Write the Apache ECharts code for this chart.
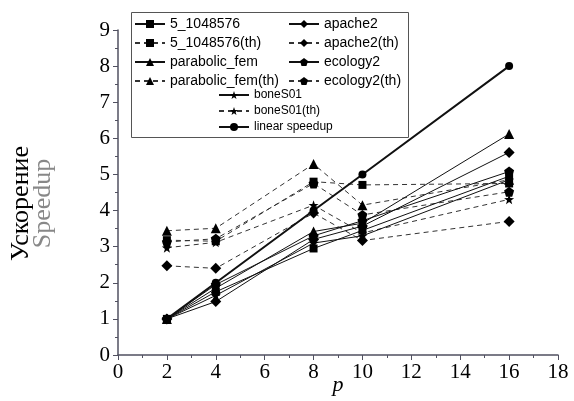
<!DOCTYPE html>
<html><head><meta charset="utf-8">
<script src="https://cdn.jsdelivr.net/npm/echarts@6/dist/echarts.min.js"></script>
<style>html,body{margin:0;padding:0;background:#fff}#c{width:574px;height:401px}</style>
</head><body><div id="c"></div>
<script>
var procs = [2, 4, 8, 10, 16];
var xTicks = [0, 2, 4, 6, 8, 10, 12, 14, 16, 18];
var linearSpeedup = [1, 2, 4, 5, 8];
var s5 = [1, 1.75, 2.95, 3.45, 4.95];
var s5th = [3.18, 3.15, 4.80, 4.71, 4.75];
var parab = [1, 1.85, 3.42, 3.65, 6.12];
var parabTh = [3.44, 3.51, 5.29, 4.15, 4.85];
var apache = [1, 1.48, 3.2, 3.57, 5.61];
var apacheTh = [2.47, 2.40, 3.93, 3.17, 3.70];
var eco = [1, 1.95, 3.3, 3.72, 5.08];
var ecoTh = [3.13, 3.22, 4.75, 3.88, 4.52];
var bone = [1, 1.65, 3.1, 3.3, 4.85];
var boneTh = [2.97, 3.12, 4.15, 3.38, 4.31];

var PENT = 'path://M0,-10 L9.5,-3.1 L5.9,8.1 L-5.9,8.1 L-9.5,-3.1 Z';
var STAR = 'path://M0,-10 L2.35,-3.2 L9.5,-3.1 L3.8,1.2 L5.9,8.1 L0,4 L-5.9,8.1 L-3.8,1.2 L-9.5,-3.1 L-2.35,-3.2 Z';

function pts(arr){ return procs.map(function(p,i){ return [p, arr[i]]; }); }
function ser(name, arr, sym, dashed, size, width){
  return {
    name: name, type: 'line', data: pts(arr), symbol: sym, symbolSize: size || 8,
    lineStyle: {color: dashed ? '#333' : '#111', width: width || 1, type: dashed ? [5,4] : 'solid'},
    itemStyle: {color: '#000'}, emphasis: {disabled: true}, animation: false, z: dashed ? 2 : 3
  };
}
var series = [
  ser('5_1048576', s5, 'rect', false, 8),
  ser('5_1048576(th)', s5th, 'rect', true, 8),
  ser('parabolic_fem', parab, 'triangle', false, 10),
  ser('parabolic_fem(th)', parabTh, 'triangle', true, 10),
  ser('apache2', apache, 'diamond', false, 11),
  ser('apache2(th)', apacheTh, 'diamond', true, 11),
  ser('ecology2', eco, PENT, false, 10),
  ser('ecology2(th)', ecoTh, PENT, true, 10),
  ser('boneS01', bone, STAR, false, 10),
  ser('boneS01(th)', boneTh, STAR, true, 10),
  ser('linear speedup', linearSpeedup, 'circle', false, 8, 2)
];

var lgBase = {orient: 'vertical', itemWidth: 30, itemHeight: 10, selectedMode: false,
  textStyle: {fontFamily: 'Liberation Sans', fontSize: 14, color: '#000'}, padding: 0};
var chart = echarts.init(document.getElementById('c'), null, {renderer: 'canvas'});
chart.setOption({
  animation: false,
  backgroundColor: '#fff',
  grid: {left: 118, right: 16, top: 30, bottom: 46, containLabel: false, outerBoundsMode: 'none'},
  graphic: [{type: 'rect', shape: {x: 131.5, y: 12.5, width: 277, height: 125},
    style: {fill: '#fff', stroke: '#555', lineWidth: 1}, z: 10}],
  legend: [
    Object.assign({}, lgBase, {left: 134, top: 17, itemGap: 5, z: 11,
      data: ['5_1048576', '5_1048576(th)', 'parabolic_fem', 'parabolic_fem(th)']}),
    Object.assign({}, lgBase, {left: 288, top: 17, itemGap: 5, z: 11,
      data: ['apache2', 'apache2(th)', 'ecology2', 'ecology2(th)']}),
    Object.assign({}, lgBase, {left: 218, top: 89, z: 11, itemGap: 4,
      textStyle: {fontFamily: 'Liberation Sans', fontSize: 12, color: '#000'},
      data: ['boneS01', 'boneS01(th)', 'linear speedup']})
  ],
  xAxis: {
    type: 'value', min: 0, max: 18, interval: 2,
    name: 'p', nameLocation: 'middle', nameGap: 19, nameMoveOverlap: false,
    nameTextStyle: {fontFamily: 'Liberation Serif', fontStyle: 'italic', fontSize: 22, color: '#000'},
    axisLine: {lineStyle: {color: '#505060', width: 1.5}},
    axisTick: {show: true, length: 5, lineStyle: {color: '#505060'}},
    minorTick: {show: true, splitNumber: 2, length: 3, lineStyle: {color: '#505060'}},
    splitLine: {show: false},
    axisLabel: {fontFamily: 'Liberation Serif', fontSize: 21, color: '#000', margin: 7,
      formatter: function(v){ return xTicks.indexOf(v) >= 0 ? String(v) : ''; }}
  },
  yAxis: {
    type: 'value', min: 0, max: 9, interval: 1,
    name: '{a|Ускорение}\n{b|Speedup}', nameLocation: 'middle', nameGap: 64, nameRotate: 90,
    nameTextStyle: {padding: [0, 22, 0, 0], rich: {
      a: {fontFamily: 'Liberation Serif', fontSize: 26, color: '#000', lineHeight: 22},
      b: {fontFamily: 'Liberation Serif', fontSize: 26, color: '#888', lineHeight: 22}}},
    axisLine: {show: true, lineStyle: {color: '#505060', width: 1.5}},
    axisTick: {show: true, length: 5, lineStyle: {color: '#505060'}},
    minorTick: {show: true, splitNumber: 2, length: 3, lineStyle: {color: '#505060'}},
    splitLine: {show: false},
    axisLabel: {fontFamily: 'Liberation Serif', fontSize: 21, color: '#000', margin: 8}
  },
  series: series
});
</script></body></html>
